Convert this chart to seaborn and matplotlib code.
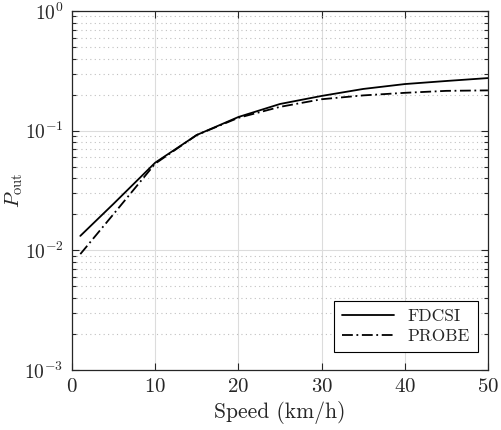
import matplotlib
matplotlib.use("Agg")
import matplotlib.pyplot as plt
import numpy as np
import pandas as pd
import seaborn as sns
from matplotlib.ticker import LogLocator, NullFormatter

# data
speed = [1, 5, 10, 15, 20, 25, 30, 35, 40, 45, 50]
fdcsi = [0.0132, 0.0245, 0.054, 0.092, 0.130, 0.167, 0.195, 0.223, 0.245, 0.260, 0.275]
probe = [0.0093, 0.0201, 0.053, 0.092, 0.128, 0.158, 0.183, 0.197, 0.207, 0.215, 0.217]
series_names = ["FDCSI", "PROBE"]

df = pd.DataFrame({
    "speed": speed * 2,
    "pout": fdcsi + probe,
    "scheme": [series_names[0]] * len(speed) + [series_names[1]] * len(speed),
})

sns.set_style("ticks")
plt.rcParams["font.family"] = "serif"
plt.rcParams["font.serif"] = ["cmr10", "DejaVu Serif"]
plt.rcParams["mathtext.fontset"] = "cm"
plt.rcParams["axes.unicode_minus"] = False
plt.rcParams["axes.formatter.use_mathtext"] = True

fig = plt.figure(figsize=(5.02, 4.30), dpi=100)
ax = fig.add_axes([0.1434, 0.1395, 0.8286, 0.835])

sns.lineplot(data=df, x="speed", y="pout", hue="scheme", style="scheme",
             palette=["black", "black"], dashes={"FDCSI": "", "PROBE": (6, 2, 1, 2)},
             linewidth=1.3, ax=ax)

ax.set_yscale("log")
ax.set_xlim(0, 50)
ax.set_ylim(1e-3, 1e0)
ax.set_xticks([0, 10, 20, 30, 40, 50])
ax.yaxis.set_major_locator(LogLocator(base=10, numticks=10))
ax.yaxis.set_minor_locator(LogLocator(base=10, subs=np.arange(2, 10), numticks=10))
ax.yaxis.set_minor_formatter(NullFormatter())

ax.grid(True, which="major", color="#dcdcdc", linestyle="-", linewidth=0.8)
ax.grid(True, which="minor", axis="y", color="#c0c0c0", linestyle=(0, (1, 3)), linewidth=0.8)
ax.set_axisbelow(True)

ax.tick_params(which="both", direction="in", top=True, right=True, width=0.8)
ax.tick_params(axis="x", labelsize=15)
ax.tick_params(axis="y", labelsize=14)
ax.tick_params(which="major", length=5, pad=6)
ax.tick_params(which="minor", length=3)
for s in ax.spines.values():
    s.set_linewidth(0.9)
    s.set_color("#262626")

ax.set_xlabel("Speed (km/h)", fontsize=15.5, labelpad=3)
ax.set_ylabel(r"$P_{\mathrm{out}}$", fontsize=15)
ax.yaxis.set_label_coords(-0.112, 0.5)

handles, labels = ax.get_legend_handles_labels()
leg = ax.legend(handles, labels, loc="lower right", bbox_to_anchor=(0.976, 0.05),
                borderaxespad=0, fontsize=12.5, fancybox=False, edgecolor="black",
                framealpha=1, handlelength=3.0, borderpad=0.45, labelspacing=0.3)
leg.get_frame().set_linewidth(0.8)

fig.savefig("out.png", dpi=100)
